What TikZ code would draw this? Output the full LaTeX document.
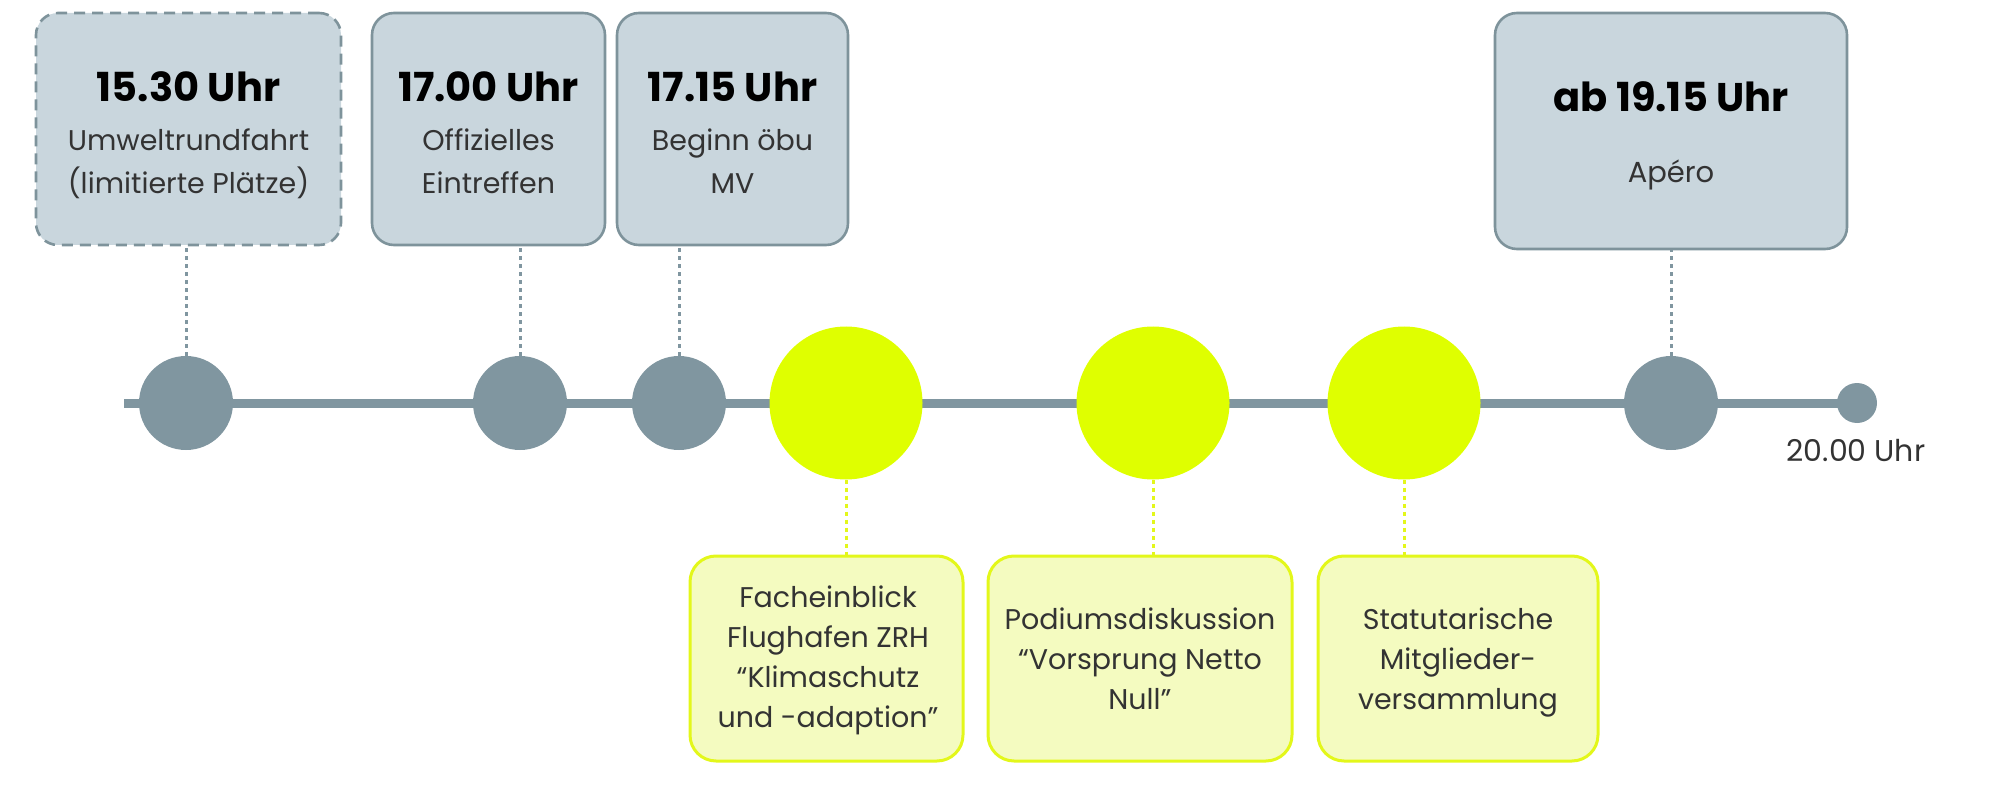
\documentclass[tikz,border=0pt]{standalone}
\usepackage{fontspec}
\setmainfont{Poppins}
\definecolor{boxfill}{HTML}{C9D6DD}
\definecolor{boxline}{HTML}{7E939B}
\definecolor{dotgray}{HTML}{8096A0}
\definecolor{lime}{HTML}{DFFF00}
\definecolor{limefill}{HTML}{F4FBC0}
\definecolor{limeline}{HTML}{E3F71A}
\definecolor{txt}{HTML}{333333}
\begin{document}
\begin{tikzpicture}[x=1pt,y=-1pt,
  topbox/.style={draw=boxline, line width=2.6pt, fill=boxfill, rounded corners=22pt, inner sep=0pt},
  botbox/.style={draw=limeline, line width=3pt, fill=limefill, rounded corners=26pt, inner sep=0pt},
  hd/.style={anchor=base, inner sep=0pt, text=black, font=\fontsize{40}{48}\selectfont\bfseries},
  bd/.style={anchor=base, inner sep=0pt, text=txt, font=\fontsize{28.5}{40}\selectfont},
  gdot/.style={circle, fill=dotgray, minimum size=94pt, inner sep=0pt},
  ydot/.style={circle, fill=lime, minimum size=153pt, inner sep=0pt},
  gconn/.style={draw=dotgray, line width=3pt, dash pattern=on 4pt off 4pt},
  yconn/.style={draw=limeline, line width=3pt, dash pattern=on 4pt off 4pt},
  tline/.style={draw=dotgray, line width=9pt}]
\useasboundingbox (0,0) rectangle (2000,802);

% timeline
\coordinate (tstart) at (124,403);
\node[circle, fill=dotgray, minimum size=40pt, inner sep=0pt] (tend) at (1857,403) {};
\draw[tline] (tstart) -- (tend.center);

% top boxes
\node[topbox, dashed, dash pattern=on 11pt off 7pt, minimum width=305pt, minimum height=232pt] (b1) at (188.5,129) {};
\node[topbox, minimum width=233pt, minimum height=232pt] (b2) at (488.5,129) {};
\node[topbox, minimum width=231pt, minimum height=232pt] (b3) at (732.5,129) {};
\node[topbox, minimum width=352pt, minimum height=236pt] (b4) at (1671,131) {};

\node[hd] (h1) at (188.5,102) {15.30 Uhr};
\node[bd] (h1a) at (188.5,151) {Umweltrundfahrt};
\node[bd] (h1b) at (188.5,194) {(limitierte Plätze)};

\node[hd] (h2) at (488.5,102) {17.00 Uhr};
\node[bd] (h2a) at (488.5,151) {Offizielles};
\node[bd] (h2b) at (488.5,194) {Eintreffen};

\node[hd] (h3) at (732.5,102) {17.15 Uhr};
\node[bd] (h3a) at (732.5,151) {Beginn öbu};
\node[bd] (h3b) at (732.5,194) {MV};

\node[hd] (h4) at (1671,112) {ab 19.15 Uhr};
\node[bd, font=\fontsize{29}{40}\selectfont] (h4a) at (1671,183) {Apéro};

% bottom boxes
\node[botbox, minimum width=273pt, minimum height=205pt] (bA) at (826.5,658.5) {};
\node[botbox, minimum width=304pt, minimum height=205pt] (bB) at (1140,658.5) {};
\node[botbox, minimum width=280pt, minimum height=205pt] (bC) at (1458,658.5) {};

\node[bd] (lA1) at (828,607) {Facheinblick};
\node[bd] (lA2) at (828,647) {Flughafen ZRH};
\node[bd] (lA3) at (828,687) {“Klimaschutz};
\node[bd] (lA4) at (828,727) {und -adaption”};

\node[bd] (lB1) at (1140,629) {Podiumsdiskussion};
\node[bd] (lB2) at (1140,669) {“Vorsprung Netto};
\node[bd] (lB3) at (1140,709) {Null”};

\node[bd] (lC1) at (1458,629) {Statutarische};
\node[bd] (lC2) at (1458,669) {Mitglieder-};
\node[bd] (lC3) at (1458,709) {versammlung};

% dots
\node[gdot] (c1) at (186,403) {};
\node[gdot] (c2) at (520,403) {};
\node[gdot] (c3) at (679,403) {};
\node[ydot] (y1) at (846,403) {};
\node[ydot] (y2) at (1153,403) {};
\node[ydot] (y3) at (1404,403) {};
\node[gdot] (c4) at (1671,403) {};

\node[anchor=base, inner sep=0pt, text=txt, font=\fontsize{30}{36}\selectfont] (endlbl) at (1856,461) {20.00 Uhr};

% connectors
\draw[gconn] (c1.north) -- (c1.north |- b1.south);
\draw[gconn] (c2.north) -- (c2.north |- b2.south);
\draw[gconn] (c3.north) -- (c3.north |- b3.south);
\draw[gconn] (c4.north) -- (c4.north |- b4.south);
\draw[yconn] (y1.south) -- (y1.south |- bA.north);
\draw[yconn] (y2.south) -- (y2.south |- bB.north);
\draw[yconn] (y3.south) -- (y3.south |- bC.north);
\end{tikzpicture}
\end{document}
